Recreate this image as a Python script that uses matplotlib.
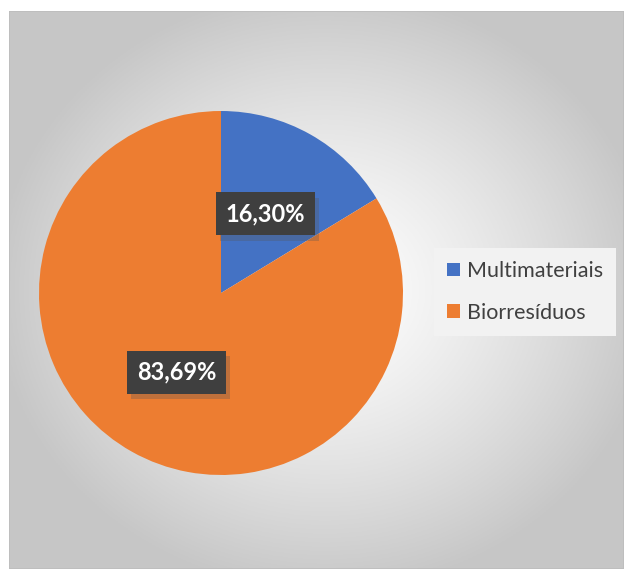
import numpy as np
import matplotlib
matplotlib.use("Agg")
import matplotlib.pyplot as plt
from matplotlib.patches import Rectangle, Patch
import matplotlib.patheffects as pe

categories = ["Multimateriais", "Biorresíduos"]
values = [16.30, 83.69]
labels_txt = ["16,30%", "83,69%"]
colors = ["#4472C4", "#ED7D31"]

plt.rcParams['font.family'] = ['Lato', 'DejaVu Sans']

W, H = 624, 569
fig = plt.figure(figsize=(W/100, H/100), dpi=100)

# background gradient area
x0, y0 = 9, 11
bg = fig.add_axes([x0/W, 0, 1 - x0/W, 1 - y0/H])
bg.set_axis_off()
gx = np.linspace(x0, W, 300)
gy = np.linspace(y0, H, 300)
X, Y = np.meshgrid(gx, gy)
cx, cy = 325, 290
r = np.sqrt(((X - cx) / 330) ** 2 + ((Y - cy) / 300) ** 2)
v = 1 - 0.22 * np.clip(r, 0, 1) ** 1.3
img = np.dstack([v, v, v])
bg.imshow(img, extent=[0, 1, 0, 1], aspect='auto', origin='upper')
bg.add_patch(Rectangle((0, 0), 1, 1, transform=bg.transAxes, fill=False,
                       edgecolor='#bdbdbd', lw=1.2))

# pie
cxp, cyp, R = 221, 293, 182
ax = fig.add_axes([(cxp - R)/W, (H - cyp - R)/H, 2*R/W, 2*R/H])
wedges, texts = ax.pie(values, colors=colors, startangle=90, counterclock=False,
                       normalize=True, wedgeprops=dict(linewidth=0))
ax.set_xlim(-1, 1)
ax.set_ylim(-1, 1)
ax.set_aspect('equal')

tot = sum(values)
start = 90.0
for val, lab in zip(values, labels_txt):
    ang = start - val / tot * 360 / 2
    start -= val / tot * 360
    d = 0.5
    xx, yy = d*np.cos(np.radians(ang)), d*np.sin(np.radians(ang))
    t = ax.text(xx, yy, lab, ha='center', va='center', fontsize=17, fontweight='bold',
                color='white',
                bbox=dict(boxstyle='square,pad=0.42', facecolor='#3f3f3f',
                          edgecolor='none', linewidth=0))
    t.get_bbox_patch().set_path_effects([
        pe.SimplePatchShadow(offset=(3, -4), shadow_rgbFace='#555555', alpha=0.3),
        pe.Normal()])

handles = [Patch(facecolor=c, edgecolor='none') for c in colors]
leg = fig.legend(handles, categories, loc='center', bbox_to_anchor=(525/W, 1 - 292/H),
                 fontsize=15.5, frameon=True, fancybox=False, handlelength=0.6,
                 handleheight=0.6, labelspacing=1.0, borderpad=0.6, handletextpad=0.35,
                 borderaxespad=0)
leg.get_frame().set_facecolor('#f2f2f2')
leg.get_frame().set_edgecolor('none')
leg.get_frame().set_alpha(1)
for t in leg.get_texts():
    t.set_color('#404040')

fig.savefig('out.png', dpi=100)
